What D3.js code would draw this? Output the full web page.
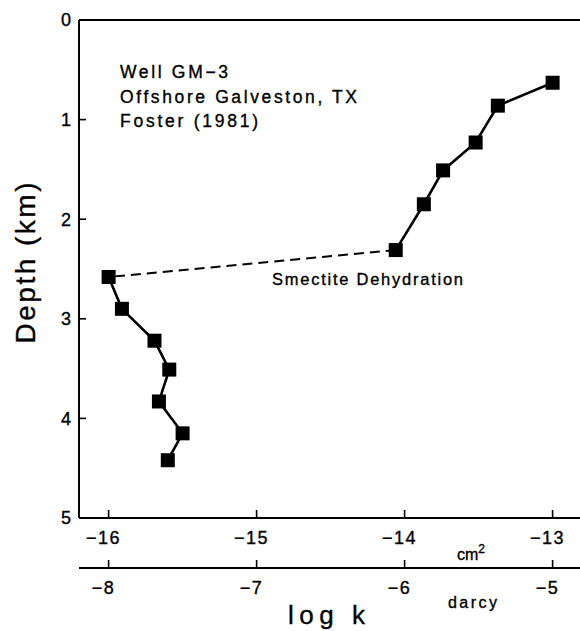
<!DOCTYPE html>
<html>
<head>
<meta charset="utf-8">
<script src="https://cdn.jsdelivr.net/npm/d3@7"></script>
<style>
  html, body { margin: 0; padding: 0; background: #fff; }
  svg { display: block; }
  text { font-family: "Liberation Sans", Arial, sans-serif; fill: #000; stroke: #000; stroke-width: 0.35px; }
</style>
</head>
<body>
<svg id="chart" width="580" height="631"></svg>
<script>
// Permeability (log k, cm^2) versus depth, Well GM-3
const upperLogK  = [-13.0, -13.37, -13.52, -13.74, -13.87, -14.06];
const upperDepth = [0.63, 0.86, 1.23, 1.51, 1.85, 2.31];
const lowerLogK  = [-16.0, -15.91, -15.69, -15.59, -15.66, -15.50, -15.60];
const lowerDepth = [2.58, 2.90, 3.22, 3.51, 3.83, 4.15, 4.42];

const cmTicks    = [-16, -15, -14, -13];
const darcyTicks = [-8, -7, -6, -5];
const depthTicks = [0, 1, 2, 3, 4, 5];

const annotation = ["Well GM\u22123", "Offshore Galveston, TX", "Foster (1981)"];
const annotationWidths = [108, 237, 138];

const svg = d3.select("#chart");

const x = d3.scaleLinear().domain([-16.2, -12.8]).range([79, 582.2]);
const xDarcy = d3.scaleLinear().domain([-8.2, -4.8]).range([79, 582.2]);
const y = d3.scaleLinear().domain([0, 5]).range([20, 518]);

const fmt = d => String(d).replace("-", "\u2212");

// Frame lines: top and left
const axisStroke = 2;
svg.append("line").attr("x1", x.range()[0]).attr("x2", 580)
  .attr("y1", y(0)).attr("y2", y(0)).attr("stroke", "#000").attr("stroke-width", axisStroke);
svg.append("line").attr("x1", x.range()[0]).attr("x2", x.range()[0])
  .attr("y1", y(0)).attr("y2", y(5)).attr("stroke", "#000").attr("stroke-width", axisStroke);

// Bottom cm^2 axis
const gx = svg.append("g").attr("transform", `translate(0,${y(5)})`);
gx.append("line").attr("x1", x.range()[0]).attr("x2", 580).attr("y1", 0).attr("y2", 0)
  .attr("stroke", "#000").attr("stroke-width", axisStroke);
gx.selectAll("line.tick").data(cmTicks).join("line").attr("class", "tick")
  .attr("x1", d => x(d)).attr("x2", d => x(d)).attr("y1", 0).attr("y2", -8)
  .attr("stroke", "#000").attr("stroke-width", 1.6);
gx.selectAll("text").data(cmTicks).join("text")
  .attr("x", d => x(d) - 5).attr("y", 26).attr("text-anchor", "middle")
  .attr("font-size", 18).attr("letter-spacing", 1.5).text(fmt);

// Darcy axis
const darcyY = 568;
const gd = svg.append("g").attr("transform", `translate(0,${darcyY})`);
gd.append("line").attr("x1", xDarcy.range()[0]).attr("x2", 580).attr("y1", 0).attr("y2", 0)
  .attr("stroke", "#000").attr("stroke-width", axisStroke);
gd.selectAll("line.tick").data(darcyTicks).join("line").attr("class", "tick")
  .attr("x1", d => xDarcy(d)).attr("x2", d => xDarcy(d)).attr("y1", 0).attr("y2", -8)
  .attr("stroke", "#000").attr("stroke-width", 1.6);
gd.selectAll("text").data(darcyTicks).join("text")
  .attr("x", d => xDarcy(d) - 5).attr("y", 26).attr("text-anchor", "middle")
  .attr("font-size", 18).attr("letter-spacing", 1.5).text(fmt);

// Depth axis
const gy = svg.append("g").attr("transform", `translate(${x.range()[0]},0)`);
gy.selectAll("line.tick").data(depthTicks.filter(d => d > 0 && d < 5)).join("line").attr("class", "tick")
  .attr("x1", 0).attr("x2", 7).attr("y1", d => y(d)).attr("y2", d => y(d))
  .attr("stroke", "#000").attr("stroke-width", 1.6);
gy.selectAll("text").data(depthTicks).join("text")
  .attr("x", -8).attr("y", d => y(d)).attr("dy", "0.36em").attr("text-anchor", "end")
  .attr("font-size", 18).text(d => d);

// Axis titles
svg.append("text").attr("transform", "translate(35,263) rotate(-90)")
  .attr("text-anchor", "middle").attr("font-size", 28)
  .attr("textLength", 161).attr("lengthAdjust", "spacing").text("Depth  (km)");
svg.append("text").attr("x", 288).attr("y", 624).attr("font-size", 26)
  .attr("textLength", 77).attr("lengthAdjust", "spacing").text("log  k");
const cm = svg.append("text").attr("x", 457).attr("y", 560).attr("font-size", 16);
cm.append("tspan").text("cm");
cm.append("tspan").attr("dy", -7).attr("font-size", 12).text("2");
svg.append("text").attr("x", 448).attr("y", 608).attr("font-size", 16)
  .attr("textLength", 49).attr("lengthAdjust", "spacing").text("darcy");

// Annotation block
svg.selectAll("text.note").data(annotation).join("text").attr("class", "note")
  .attr("x", 120).attr("y", (d, i) => 78 + i * 24.5).attr("font-size", 17.5)
  .attr("textLength", (d, i) => annotationWidths[i]).attr("lengthAdjust", "spacing")
  .text(d => d);

svg.append("text").attr("x", 272).attr("y", 285).attr("font-size", 16.5)
  .attr("textLength", 191).attr("lengthAdjust", "spacing").text("Smectite Dehydration");

// Data
const upper = upperLogK.map((k, i) => ({ k, d: upperDepth[i] }));
const lower = lowerLogK.map((k, i) => ({ k, d: lowerDepth[i] }));
const line = d3.line().x(p => x(p.k)).y(p => y(p.d));

svg.append("path").datum([upper[upper.length - 1], lower[0]]).attr("d", line)
  .attr("fill", "none").attr("stroke", "#000").attr("stroke-width", 2)
  .attr("stroke-dasharray", "10,6");
[upper, lower].forEach(seg => {
  svg.append("path").datum(seg).attr("d", line)
    .attr("fill", "none").attr("stroke", "#000").attr("stroke-width", 2.6);
});

const ms = 14;
svg.selectAll("rect.pt").data(upper.concat(lower)).join("rect").attr("class", "pt")
  .attr("x", p => x(p.k) - ms / 2).attr("y", p => y(p.d) - ms / 2)
  .attr("width", ms).attr("height", ms).attr("fill", "#000");
</script>
</body>
</html>
